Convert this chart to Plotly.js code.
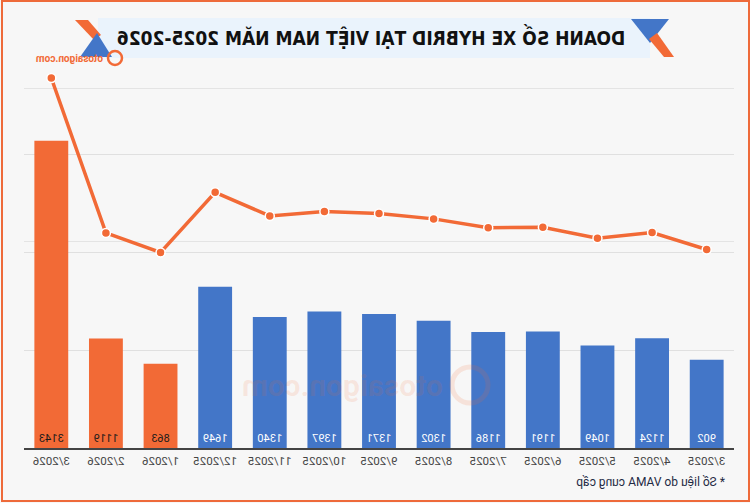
<!DOCTYPE html>
<html>
<head>
<meta charset="utf-8">
<script src="https://cdn.plot.ly/plotly-3.0.1.min.js"></script>
<style>
  html, body { margin: 0; padding: 0; background: #f7f7f7; overflow: hidden; }
  #chart { width: 750px; height: 503px; transform: scaleX(-1); transform-origin: center; }
</style>
</head>
<body>
<div id="chart"></div>
<script>
// ---- data ----
const months = ["3/2025","4/2025","5/2025","6/2025","7/2025","8/2025","9/2025","10/2025","11/2025","12/2025","1/2026","2/2026","3/2026"];
const sales  = [902, 1124, 1049, 1191, 1186, 1302, 1371, 1397, 1340, 1649, 863, 1119, 3143];
const titleText = "DOANH SỐ XE HYBRID TẠI VIỆT NAM NĂM 2025-2026";
const footnoteText = "* Số liệu do VAMA cung cấp";
const brandText = "otosaigon.com";

// ---- styling ----
const ORANGE = "#f26a36";
const BLUE = "#4376c8";
const W = 750, H = 503;
const M = { l: 16, r: 24, t: 57, b: 55 };
const PW = W - M.l - M.r, PH = H - M.t - M.b;
const px = v => (v - M.l) / PW;         // pixel -> paper x
const py = v => (H - M.b - v) / PH;     // pixel -> paper y
const path = pts => "M" + pts.map(p => px(p[0]) + "," + py(p[1])).join(" L") + " Z";

const is2026 = months.map(m => m.endsWith("2026"));
const barColors = is2026.map(b => b ? ORANGE : BLUE);
const textColors = is2026.map(b => b ? "#1a1a1a" : "#ffffff");

const bars = {
  type: "bar", x: months, y: sales,
  marker: { color: barColors },
  text: sales.map(String), textposition: "inside", insidetextanchor: "start",
  textangle: 0, textfont: { family: "Roboto, Arial, sans-serif", size: 11, color: textColors },
  cliponaxis: false, hoverinfo: "skip", showlegend: false
};
const line = {
  type: "scatter", mode: "lines+markers", x: months, y: sales, yaxis: "y2",
  line: { color: ORANGE, width: 3.5 },
  marker: { color: ORANGE, size: 9, line: { color: "#ffffff", width: 1.5 } },
  hoverinfo: "skip", showlegend: false, cliponaxis: false
};

const shapes = [
  // title banner
  { type: "rect", xref: "paper", yref: "paper", x0: px(100), x1: px(652), y0: py(18), y1: py(58),
    fillcolor: "#eaf3fc", line: { width: 0 }, layer: "below" },
  // left decoration
  { type: "path", xref: "paper", yref: "paper", path: path([[81,19],[119,19],[100,43]]), fillcolor: BLUE, line: { width: 0 } },
  { type: "path", xref: "paper", yref: "paper", path: path([[93,33],[101,39],[86,57],[76,57]]), fillcolor: ORANGE, line: { width: 0 } },
  // right decoration
  { type: "path", xref: "paper", yref: "paper", path: path([[662,20],[675,20],[656,40],[649,35]]), fillcolor: ORANGE, line: { width: 0 } },
  { type: "path", xref: "paper", yref: "paper", path: path([[653,33],[670,57],[638,57]]), fillcolor: BLUE, line: { width: 0 } },
  // top logo icon
  { type: "circle", xref: "paper", yref: "paper", x0: px(628), x1: px(642), y0: py(51), y1: py(65),
    fillcolor: "rgba(0,0,0,0)", line: { color: ORANGE, width: 2.5 } },
  // watermark icon
  { type: "circle", xref: "paper", yref: "paper", x0: px(262), x1: px(298), y0: py(367), y1: py(403),
    fillcolor: "rgba(0,0,0,0)", line: { color: "rgba(242,106,54,0.15)", width: 5 } },
  // outer frame
  { type: "rect", xref: "paper", yref: "paper", x0: px(1), x1: px(748), y0: py(1), y1: py(501),
    fillcolor: "rgba(0,0,0,0)", line: { color: "#ee6a3a", width: 2 } }
];

const annotations = [
  { xref: "paper", yref: "paper", x: px(23), y: py(482), xanchor: "left", yanchor: "middle",
    text: footnoteText, showarrow: false, font: { family: "Roboto, Arial, sans-serif", size: 12, color: "#1f2a44" } },
  { xref: "paper", yref: "paper", x: px(645), y: py(58), xanchor: "left", yanchor: "middle",
    text: "<b>" + brandText + "</b>", showarrow: false, font: { family: "Roboto, Arial, sans-serif", size: 10, color: ORANGE } },
  { xref: "paper", yref: "paper", x: px(305), y: py(385), xanchor: "left", yanchor: "middle",
    text: "<b>" + brandText + "</b>", showarrow: false, font: { family: "Roboto, Arial, sans-serif", size: 30, color: "rgba(242,106,54,0.13)" } }
];

const layout = {
  width: W, height: H,
  margin: M,
  paper_bgcolor: "#f7f7f7", plot_bgcolor: "#f7f7f7",
  title: { text: titleText, x: 379 / W, xanchor: "center", xref: "container", y: 1 - 38 / H, yanchor: "middle", yref: "container",
           font: { family: "'Liberation Sans Narrow', 'DejaVu Sans Condensed', Arial, sans-serif", size: 19, color: "#111", weight: 700 } },
  bargap: 0.38,
  xaxis: { type: "category", range: [-0.5, months.length - 0.5], showgrid: false, showline: true, linecolor: "#444", linewidth: 2,
           ticks: "", tickfont: { family: "Roboto, Arial, sans-serif", size: 11.5, color: "#444" }, ticklabelstandoff: 1, fixedrange: true },
  yaxis: { range: [0, 4000], tickvals: [1000, 2000, 3000], showticklabels: false, showgrid: true,
           gridcolor: "#e0e0e0", gridwidth: 1, zeroline: false, fixedrange: true },
  yaxis2: { overlaying: "y", side: "right", range: [-1693, 3418], tickvals: [1000, 3000], showticklabels: false,
            showgrid: true, gridcolor: "#e4e4e4", gridwidth: 1, zeroline: false, fixedrange: true },
  shapes: shapes,
  annotations: annotations,
  hovermode: false
};

Plotly.newPlot("chart", [bars, line], layout, { displayModeBar: false, staticPlot: true });
</script>
</body>
</html>
